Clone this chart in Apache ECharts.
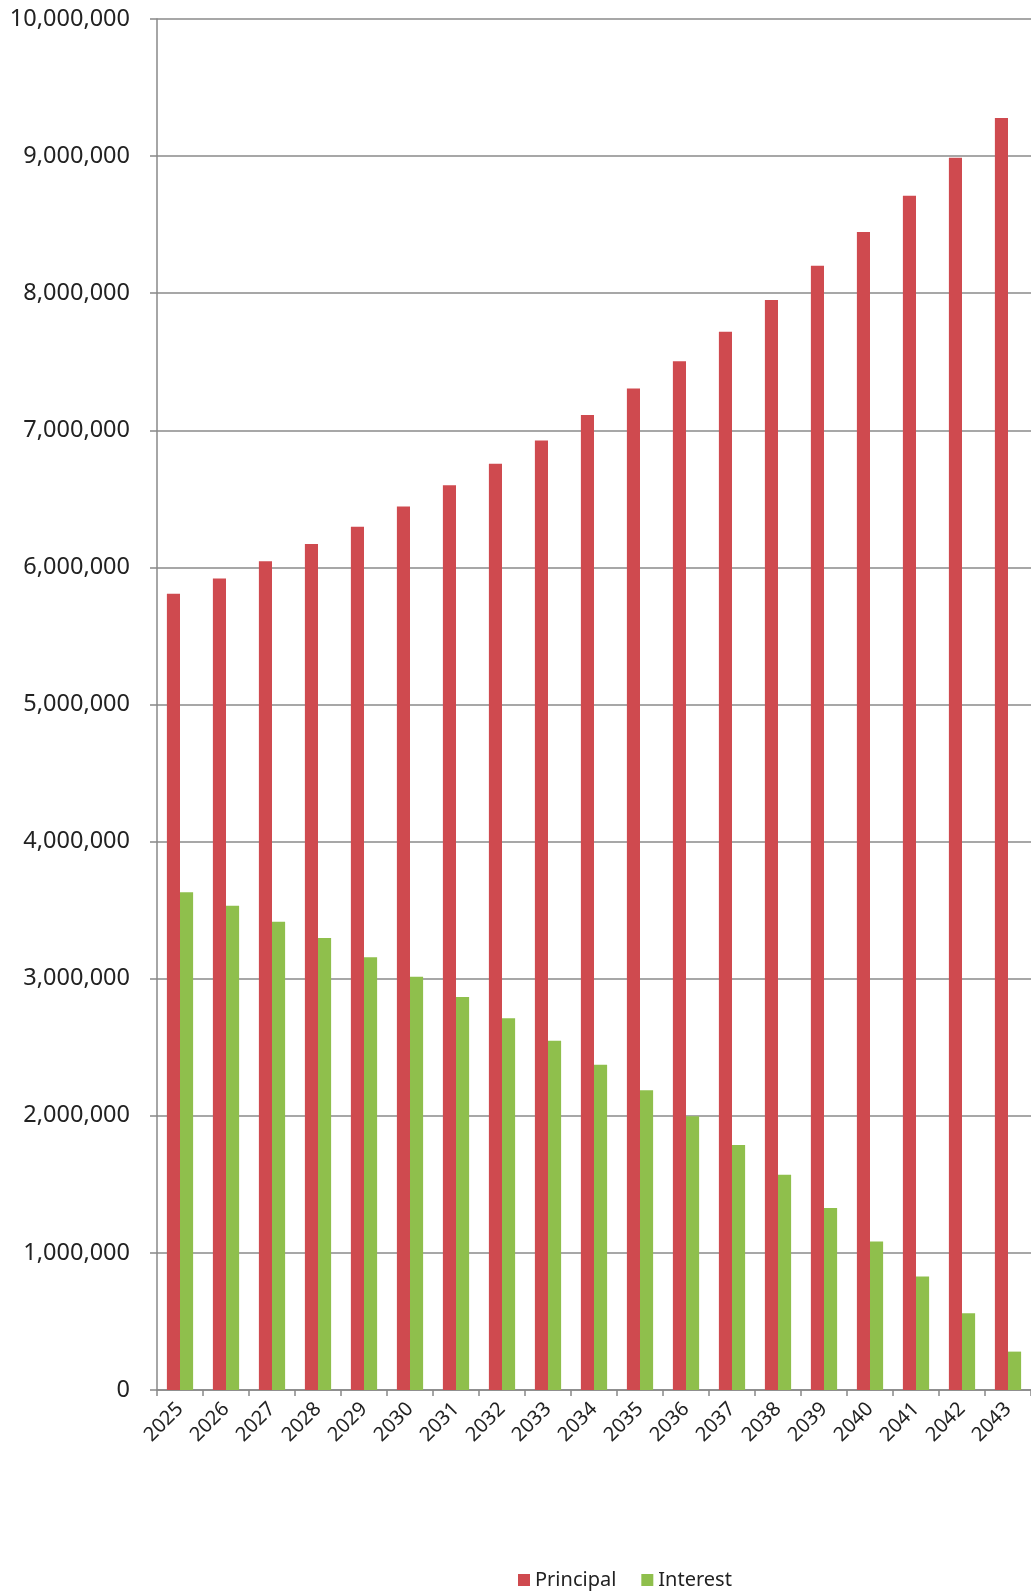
<!DOCTYPE html>
<html>
<head>
<meta charset="utf-8">
<style>
html,body{margin:0;padding:0;background:#fff;}
#chart{width:1031px;height:1593px;}
</style>
<script src="https://cdn.jsdelivr.net/npm/echarts@6/dist/echarts.min.js"></script>
</head>
<body>
<div id="chart"></div>
<script>
var years = ['2025','2026','2027','2028','2029','2030','2031','2032','2033','2034','2035','2036','2037','2038','2039','2040','2041','2042','2043'];
var principal = [5807000,5919000,6044000,6170000,6296000,6444000,6600000,6756000,6926000,7111000,7304000,7504000,7719000,7950000,8200000,8446000,8710000,8988000,9278000];
var interest = [3630000,3533000,3415000,3296000,3156000,3015000,2867000,2711000,2548000,2373000,2187000,1997000,1787000,1570000,1328000,1083000,827000,559000,280000];
var seriesNames = ['Principal','Interest'];

var chart = echarts.init(document.getElementById('chart'), null, {renderer:'canvas'});
var font = 'Noto Sans';
chart.setOption({
  animation:false,
  backgroundColor:'#ffffff',
  color:['#cf4a4f','#8fbf4c'],
  grid:{left:157,right:0,top:19,bottom:203,containLabel:false},
  legend:{
    data:seriesNames,
    left:513, top:1565,
    itemWidth:12, itemHeight:12, itemGap:25,
    icon:'rect',
    textStyle:{fontFamily:font,fontSize:20,color:'#222'}
  },
  xAxis:{
    type:'category',
    data:years,
    axisLine:{lineStyle:{color:'#888',width:1.5}},
    axisTick:{show:true,length:6,lineStyle:{color:'#888',width:1.5},alignWithLabel:false},
    axisLabel:{rotate:45,margin:16,fontFamily:font,fontSize:20,color:'#222',interval:0}
  },
  yAxis:{
    type:'value',
    min:0,max:10000000,interval:1000000,
    axisLine:{show:true,lineStyle:{color:'#888',width:1.5}},
    axisTick:{show:true,length:7,lineStyle:{color:'#888',width:1.5}},
    splitLine:{show:true,lineStyle:{color:'#8a8a8a',width:1.5}},
    axisLabel:{margin:27,fontFamily:font,fontSize:23.5,color:'#222',
      formatter:function(v){return v.toLocaleString('en-US');}}
  },
  series:[
    {name:seriesNames[0],type:'bar',data:principal,barGap:'0%',barCategoryGap:'43%'},
    {name:seriesNames[1],type:'bar',data:interest,barGap:'0%',barCategoryGap:'43%'}
  ]
});
</script>
</body>
</html>
